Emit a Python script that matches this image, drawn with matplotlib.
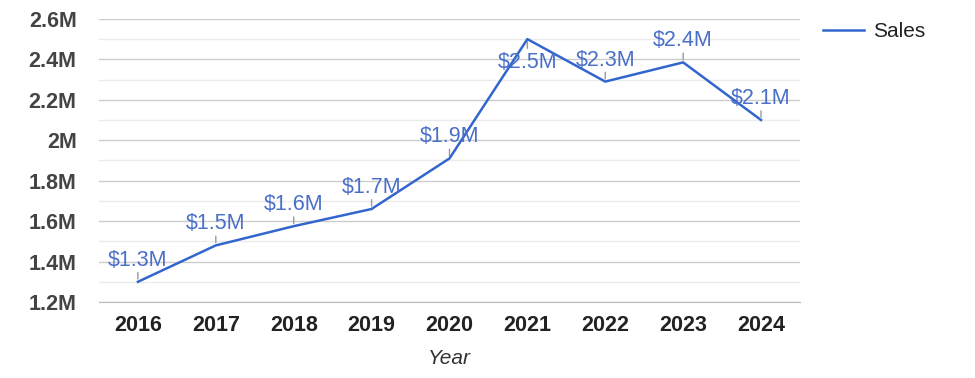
import matplotlib
matplotlib.use("Agg")
import matplotlib.pyplot as plt
from matplotlib.ticker import MultipleLocator, FuncFormatter

plt.rcParams['font.family'] = ['Liberation Sans', 'DejaVu Sans']

# data
years = ["2016", "2017", "2018", "2019", "2020", "2021", "2022", "2023", "2024"]
sales = [1.30, 1.48, 1.575, 1.66, 1.91, 2.50, 2.29, 2.385, 2.10]   # millions
labels = ["$1.3M", "$1.5M", "$1.6M", "$1.7M", "$1.9M", "$2.5M", "$2.3M", "$2.4M", "$2.1M"]
labelBelow = [False, False, False, False, False, True, False, False, False]

lineColor = "#3366cc"
labelColor = "#4a6fc9"

fig = plt.figure(figsize=(9.75, 3.78), dpi=100)
ax = fig.add_axes([0.1015, 0.201, 0.719, 0.749])

xs = list(range(len(years)))
ax.plot(xs, sales, color=lineColor, linewidth=1.8, label="Sales", zorder=3)

# annotations with little stems, google-charts style
for x, v, lab, below in zip(xs, sales, labels, labelBelow):
    sgn = -1 if below else 1
    ax.annotate("", xy=(x, v), xytext=(0, 12 * sgn), textcoords="offset pixels",
                arrowprops=dict(arrowstyle="-", color="#999999", lw=1), zorder=2)
    ax.annotate(lab, xy=(x, v), xytext=(0, 16 if not below else -13), textcoords="offset pixels",
                ha="center", va="baseline" if not below else "top",
                fontsize=15.5, color=labelColor, zorder=4)

ax.set_xlim(-0.5, len(years) - 0.5)
ax.set_ylim(1.2, 2.6)
ax.set_xticks(xs)
ax.set_xticklabels(years, fontsize=15.5, fontweight="bold", color="#222222")
ax.yaxis.set_major_locator(MultipleLocator(0.2))
ax.yaxis.set_minor_locator(MultipleLocator(0.1))
ax.yaxis.set_major_formatter(FuncFormatter(lambda v, p: f"{v:g}M"))
for t in ax.get_yticklabels():
    t.set_fontsize(15.5)
    t.set_fontweight("bold")
    t.set_color("#444444")

ax.grid(which="major", axis="y", color="#cccccc", linewidth=1)
ax.grid(which="minor", axis="y", color="#ebebeb", linewidth=1)
ax.set_axisbelow(True)
ax.tick_params(axis="both", which="both", length=0)
ax.tick_params(axis="y", pad=16)
ax.tick_params(axis="x", pad=9)
for s in ["top", "right", "left"]:
    ax.spines[s].set_visible(False)
ax.spines["bottom"].set_color("#bbbbbb")

ax.set_xlabel("Year", fontsize=15, fontstyle="italic", color="#333333", labelpad=10)

fig.legend(loc="upper left", bbox_to_anchor=(823 / 975, 0.942), frameon=False,
           fontsize=15, handlelength=1.95, handletextpad=0.45,
           borderpad=0, borderaxespad=0, labelcolor="#222222")

fig.savefig("out.png", dpi=100)
